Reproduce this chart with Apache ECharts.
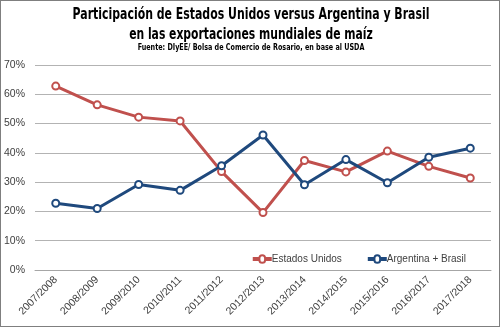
<!DOCTYPE html>
<html>
<head>
<meta charset="utf-8">
<script src="https://cdn.jsdelivr.net/npm/echarts@6/dist/echarts.min.js"></script>
<style>
  html, body { margin: 0; padding: 0; background: #fff; }
  #chart { width: 500px; height: 327px; box-sizing: border-box; border: 1px solid #7f7f7f; }
</style>
</head>
<body>
<div id="chart"></div>
<script>
// Campañas comerciales
const campaigns = ['2007/2008', '2008/2009', '2009/2010', '2010/2011', '2011/2012', '2012/2013',
                   '2013/2014', '2014/2015', '2015/2016', '2016/2017', '2017/2018'];
// Participación en las exportaciones mundiales de maíz (%)
const estadosUnidos = [62.8, 56.4, 52.2, 50.9, 33.6, 19.6, 37.4, 33.5, 40.6, 35.4, 31.4];
const argentinaBrasil = [22.8, 21.0, 29.2, 27.2, 35.6, 46.1, 29.1, 37.7, 29.8, 38.5, 41.6];
const seriesNames = ['Estados Unidos', 'Argentina + Brasil'];
const titleLines = ['Participación de Estados Unidos versus Argentina y Brasil',
                    'en las exportaciones mundiales de maíz'];
const sourceNote = 'Fuente: DIyEE/ Bolsa de Comercio de Rosario, en base al USDA';

const chart = echarts.init(document.getElementById('chart'));
const tickFont = { fontFamily: 'Liberation Sans', fontSize: 10.5, color: '#404040' };
const titleFont = "'DejaVu Sans Condensed', 'DejaVu Sans', sans-serif";

// Narrow bold heading text: a condensed face squeezed horizontally around the centre
function headingText(text, y, size, squeeze) {
  return {
    type: 'text',
    x: 250, y: y,
    scaleX: squeeze,
    silent: true,
    style: {
      text: text,
      font: 'bold ' + size + 'px ' + titleFont,
      fill: '#000',
      align: 'center', textAlign: 'center',
      verticalAlign: 'top', textVerticalAlign: 'top'
    }
  };
}

function lineSeries(name, data, color) {
  return {
    name: name,
    type: 'line',
    data: data,
    symbol: 'circle',
    symbolSize: 7,
    lineStyle: { width: 3, color: color },
    itemStyle: { color: '#fff', borderColor: color, borderWidth: 2 },
    emphasis: { disabled: true }
  };
}

chart.setOption({
  animation: false,
  graphic: [
    headingText(titleLines[0], 7, 15, 0.81),
    headingText(titleLines[1], 26.5, 15, 0.8),
    headingText(sourceNote, 42.5, 8.5, 0.84)
  ],
  grid: { left: 33, right: 8, top: 64, bottom: 56 },
  legend: {
    data: seriesNames.map(n => ({ name: n, icon: 'path://M0,4 L6,4 A3,3 0 1,1 12,4 L18,4 L18,6 L12,6 A3,3 0 1,1 6,6 L0,6 Z' })),
    right: 28, top: 248,
    itemWidth: 17, itemHeight: 8, itemGap: 26,
    backgroundColor: '#fff',
    textStyle: { fontFamily: 'Liberation Sans', fontSize: 10, color: '#404040', padding: [0, 0, 0, -4] }
  },
  xAxis: {
    type: 'category',
    data: campaigns,
    boundaryGap: true,
    axisLine: { lineStyle: { color: '#a6a6a6' } },
    axisTick: { show: false },
    axisLabel: Object.assign({ rotate: 45, margin: 8, interval: 0 }, tickFont)
  },
  yAxis: {
    type: 'value',
    min: 0, max: 70, interval: 10,
    axisLine: { show: false },
    axisTick: { show: false },
    splitLine: { lineStyle: { color: '#b3b3b3', width: 1 } },
    axisLabel: Object.assign({ formatter: v => v + '%', margin: 10 }, tickFont)
  },
  series: [
    lineSeries(seriesNames[0], estadosUnidos, '#C0504D'),
    lineSeries(seriesNames[1], argentinaBrasil, '#1F497D')
  ],
  color: ['#C0504D', '#1F497D']
});
</script>
</body>
</html>
